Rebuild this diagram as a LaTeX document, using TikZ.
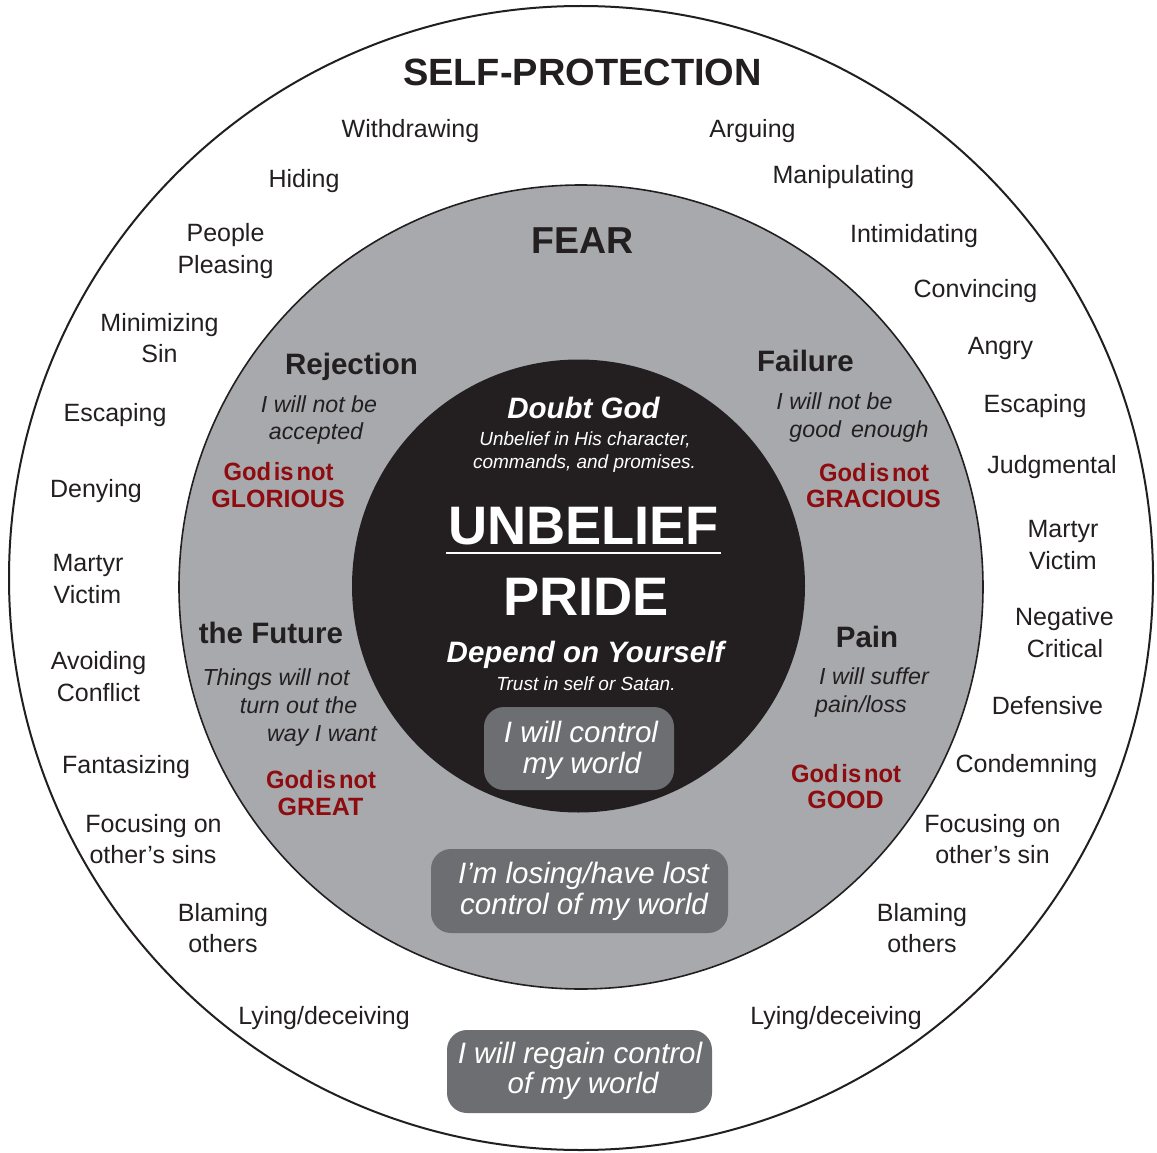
\documentclass[tikz,border=0pt]{standalone}
\usepackage{fontspec}
\setmainfont{Liberation Sans}
\definecolor{ink}{HTML}{231F20}
\definecolor{ringgray}{HTML}{A7A9AC}
\definecolor{boxgray}{HTML}{6D6E71}
\definecolor{godred}{HTML}{8E0C10}
\newcommand\fsz[2]{\fontsize{#1}{#2}\selectfont}
\tikzset{
  lbl/.style={inner sep=0pt, anchor=base},
  outerlbl/.style={lbl, text=ink, font=\fsz{25}{31}},
  titlelbl/.style={lbl, text=ink, font=\bfseries\fsz{38}{44}},
  fearlbl/.style={lbl, text=ink, font=\bfseries\fsz{37.5}{44}},
  headlbl/.style={lbl, text=ink, font=\bfseries\fsz{29.5}{34}},
  thought/.style={lbl, text=ink, font=\itshape\fsz{23.2}{28}},
  godnot/.style={lbl, text=godred, font=\bfseries\fsz{25}{28}},
  godname/.style={lbl, text=godred, font=\bfseries\fsz{25}{28}},
  corebig/.style={lbl, text=white, font=\bfseries\fsz{54.2}{60}},
  corehead/.style={lbl, text=white, font=\bfseries\itshape\fsz{29.5}{34}},
  coresmall/.style={lbl, text=white, font=\itshape\fsz{19}{23}},
  ctlbox/.style={fill=boxgray, rounded corners=20pt, inner sep=0pt, draw=none},
  ctltext/.style={lbl, text=white, font=\itshape\fsz{29.5}{31}},
}
\newcommand\godisnot{\scalebox{0.95}[1]{God\hspace{3pt}is\hspace{3pt}not}}
\begin{document}
\begin{tikzpicture}[x=1pt, y=-1pt]
  \useasboundingbox (0,0) rectangle (1157,1153);
  \fill[white] (0,0) rectangle (1157,1153);

  % circles
  \draw[ink, line width=2pt] (581,578) circle[radius=572pt];
  \filldraw[fill=ringgray, draw=ink, line width=1.6pt] (581,587) circle[radius=402pt];
  \fill[ink] (578.5,586) circle[radius=226.5pt];

  % titles
  \node[titlelbl] (selfprot) at (582.5,86) {SELF-PROTECTION};
  \node[fearlbl] (fear) at (582.5,253) {FEAR};

  % outer ring, left
  \node[outerlbl] (o1) at (410.5,138) {Withdrawing};
  \node[outerlbl] (o2) at (304,187) {Hiding};
  \node[outerlbl] (o3a) at (225.5,241) {People};
  \node[outerlbl] (o3b) at (225.5,273) {Pleasing};
  \node[outerlbl] (o4a) at (159.5,331) {Minimizing};
  \node[outerlbl] (o4b) at (159.5,362) {Sin};
  \node[outerlbl] (o5) at (115,421) {Escaping};
  \node[outerlbl] (o6) at (96,497) {Denying};
  \node[outerlbl] (o7a) at (88,571) {Martyr};
  \node[outerlbl] (o7b) at (87.5,603) {Victim};
  \node[outerlbl] (o8a) at (98.5,669) {Avoiding};
  \node[outerlbl] (o8b) at (98.5,701) {Conflict};
  \node[outerlbl] (o9) at (126,773) {Fantasizing};
  \node[outerlbl] (o10a) at (153.5,832) {Focusing on};
  \node[outerlbl] (o10b) at (153,863) {other’s sins};
  \node[outerlbl] (o11a) at (223,921) {Blaming};
  \node[outerlbl] (o11b) at (223,952) {others};
  \node[outerlbl] (o12) at (324,1024) {Lying/deceiving};

  % outer ring, right
  \node[outerlbl] (p1) at (752.5,138) {Arguing};
  \node[outerlbl] (p2) at (843.5,183) {Manipulating};
  \node[outerlbl] (p3) at (914,242) {Intimidating};
  \node[outerlbl] (p4) at (975.5,297) {Convincing};
  \node[outerlbl] (p5) at (1000.5,354) {Angry};
  \node[outerlbl] (p6) at (1035,412) {Escaping};
  \node[outerlbl] (p7) at (1052,473) {Judgmental};
  \node[outerlbl] (p8a) at (1063,537) {Martyr};
  \node[outerlbl] (p8b) at (1063,569) {Victim};
  \node[outerlbl] (p9a) at (1064.5,625) {Negative};
  \node[outerlbl] (p9b) at (1065,657) {Critical};
  \node[outerlbl] (p10) at (1047.5,714) {Defensive};
  \node[outerlbl] (p11) at (1026.5,772) {Condemning};
  \node[outerlbl] (p12a) at (992.5,832) {Focusing on};
  \node[outerlbl] (p12b) at (992.5,863) {other’s sin};
  \node[outerlbl] (p13a) at (922,921) {Blaming};
  \node[outerlbl] (p13b) at (922,952) {others};
  \node[outerlbl] (p14) at (836,1024) {Lying/deceiving};

  % fear ring: Rejection
  \node[headlbl] (rej) at (351.5,374) {Rejection};
  \node[thought] (rej1) at (319,412) {I will not be};
  \node[thought] (rej2) at (316,439) {accepted};
  \node[godnot] (rejg1) at (278.5,480) {\godisnot};
  \node[godname] (rejg2) at (278,507) {GLORIOUS};

  % Failure
  \node[headlbl] (fail) at (805.5,371) {Failure};
  \node[thought] (fail1) at (834.5,409) {I will not be};
  \node[thought] (fail2) at (859,437) {good\hspace{10pt}enough};
  \node[godnot] (failg1) at (874,481) {\godisnot};
  \node[godname] (failg2) at (873.5,507) {GRACIOUS};

  % the Future
  \node[headlbl] (fut) at (271,643) {the Future};
  \node[thought] (fut1) at (276,685) {Things will not};
  \node[thought] (fut2) at (298.5,713) {turn out the};
  \node[thought] (fut3) at (322,741) {way I want};
  \node[godnot] (futg1) at (321,788) {\godisnot};
  \node[godname] (futg2) at (320.5,815) {GREAT};

  % Pain
  \node[headlbl] (pain) at (867,647) {Pain};
  \node[thought] (pain1) at (874,684) {I will suffer};
  \node[thought] (pain2) at (861,712) {pain/loss};
  \node[godnot] (paing1) at (846,782) {\godisnot};
  \node[godname] (paing2) at (845.5,808) {GOOD};

  % core
  \node[corehead] (doubt) at (583.5,418) {Doubt God};
  \node[coresmall] (doubt1) at (585,445) {Unbelief in His character,};
  \node[coresmall] (doubt2) at (584.5,468) {commands, and promises.};
  \node[corebig] (unb) at (583.5,544) {UNBELIEF};
  \draw[white, line width=2.4pt] ([xshift=-1.5pt, yshift=-9pt]unb.base west) -- ([xshift=1.5pt, yshift=-9pt]unb.base east);
  \node[corebig] (pride) at (586,615) {PRIDE};
  \node[corehead] (dep) at (585.5,662) {Depend on Yourself};
  \node[coresmall] (dep1) at (586,690) {Trust in self or Satan.};

  % control boxes
  \node[ctlbox, minimum width=190pt, minimum height=83pt] (b1) at (579,748.5) {};
  \node[ctltext] (b1a) at (581,742) {I will control};
  \node[ctltext] (b1b) at (582,773) {my world};

  \node[ctlbox, minimum width=297pt, minimum height=84pt] (b2) at (579.5,891) {};
  \node[ctltext] (b2a) at (583.5,883) {I’m losing/have lost};
  \node[ctltext] (b2b) at (584,914) {control of my world};

  \node[ctlbox, minimum width=265pt, minimum height=83pt] (b3) at (579.5,1071.5) {};
  \node[ctltext] (b3a) at (580,1063) {I will regain control};
  \node[ctltext] (b3b) at (583,1093) {of my world};
\end{tikzpicture}
\end{document}
